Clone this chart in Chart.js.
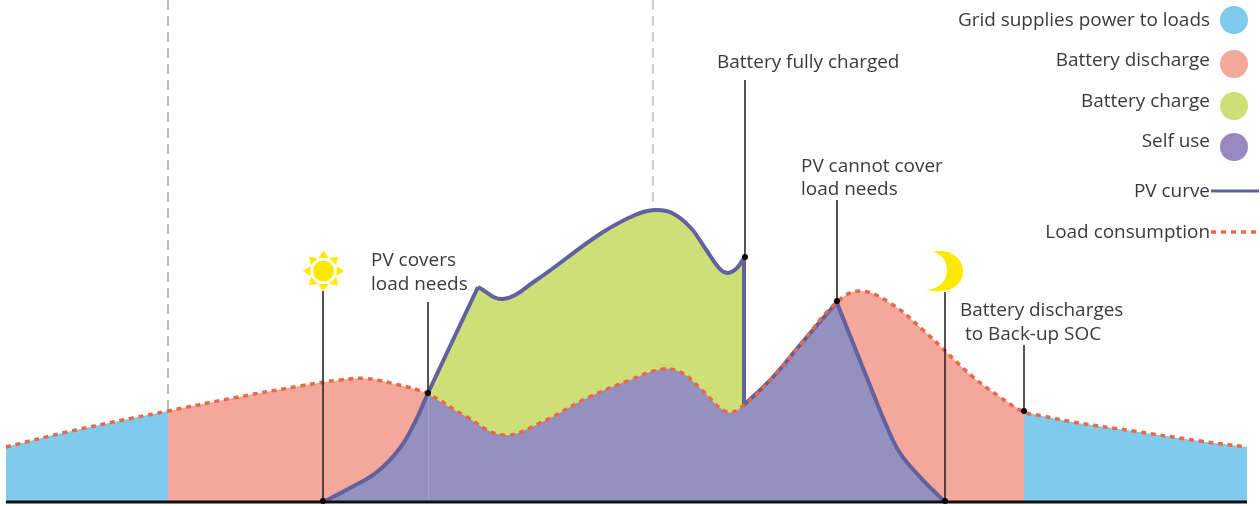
<!DOCTYPE html>
<html>
<head>
<meta charset="utf-8">
<title>PV and battery day profile</title>
<script src="https://cdn.jsdelivr.net/npm/chart.js@4/dist/chart.umd.min.js"></script>
<style>
  html, body { margin: 0; padding: 0; background: #fff; }
  canvas { display: block; }
</style>
</head>
<body>
<canvas id="profileChart" width="1260" height="506"></canvas>
<script>
// Load consumption over the day
const loadX = [6, 67, 133, 168, 233, 300, 340, 365, 395, 428, 465, 503, 540, 587, 630, 663, 682, 700, 727, 743, 773, 800, 837, 860, 890, 923, 973, 1000, 1024, 1043, 1073, 1133, 1200, 1247];
const loadY = [55, 70, 84, 91, 104, 116, 122, 123.5, 118, 108, 86, 67, 79, 104, 122, 133, 129, 114, 90, 96, 125, 157, 200, 211, 199, 172, 125, 105, 90, 86, 80, 71, 61, 55];

// PV curve, cut at its corners
const pvMorningX = [323, 350, 377, 400, 415, 428];
const pvMorningY = [0, 14, 30, 54, 80, 109];
const pvClimbX = [428, 478];
const pvClimbY = [109, 215];
const pvNoonX = [478, 503, 535, 600, 635, 655, 672, 690, 705, 720, 728, 737, 744];
const pvNoonY = [215, 203, 221, 268, 287, 292, 289, 275, 254, 233, 229, 234, 244];
const pvEveningX = [837, 853, 873, 887, 900, 920, 945];
const pvEveningY = [199, 159, 109, 75, 49, 25, 0];

// Leader lines and phase markers
const leaderX = [323, 428, 745, 837, 945, 1024];
const leaderTop = [211, 200, 422, 302, 210, 157];
const leaderBottom = [1, 109, 245, 201, 1, 91];
const phaseX = [168, 653];
const phaseBottom = [91, 292];

// Texts
const legendLabels = ["Grid supplies power to loads", "Battery discharge", "Battery charge", "Self use", "PV curve", "Load consumption"];
const noteLabels = ["Battery fully charged", "PV cannot cover", "load needs", "PV covers", "load needs", "Battery discharges", "to Back-up SOC"];

const colors = {
    grid: "#80CBEB",
    discharge: "#F3A89B",
    charge: "#CFDF78",
    selfUse: "#9491C1",
    legendSelfUse: "#9888BF",
    pv: "#62619F",
    load: "#E8694A",
    lead: "#1c1c1c",
    phase: "#bdbdbd",
    sun: "#FFE900",
    text: "#3a3a3a"
};

const zip = (xs, ys) => xs.map((x, i) => ({ x, y: ys[i] }));
const loadBetween = (from, to) => zip(loadX, loadY).filter(p => p.x >= from && p.x <= to);

// Filled region down to the baseline
function area(data, color, smooth = true) {
    return {
        data,
        backgroundColor: color,
        borderWidth: 0,
        pointRadius: 0,
        fill: "origin",
        tension: smooth ? 0.4 : 0
    };
}

function stroke(data, color, width, dash = [], smooth = true) {
    return {
        data,
        borderColor: color,
        borderWidth: width,
        borderDash: dash,
        pointRadius: 0,
        fill: false,
        tension: smooth ? 0.4 : 0
    };
}

function marker(x, y, style, radius, color) {
    return {
        data: [{ x, y }],
        showLine: false,
        pointStyle: style,
        pointRadius: radius,
        backgroundColor: color,
        borderWidth: 0
    };
}

function makeSun() {
    const c = document.createElement("canvas");
    c.width = c.height = 44;
    const g = c.getContext("2d");
    g.fillStyle = colors.sun;
    g.translate(22, 22);
    g.beginPath();
    g.arc(0, 0, 10.5, 0, Math.PI * 2);
    g.fill();
    for (let i = 0; i < 8; i++) {
        g.save();
        g.rotate(i * Math.PI / 4);
        g.beginPath();
        g.moveTo(0, -20.5);
        g.lineTo(-5, -13);
        g.lineTo(5, -13);
        g.closePath();
        g.fill();
        g.restore();
    }
    return c;
}

function makeMoon() {
    const c = document.createElement("canvas");
    c.width = c.height = 48;
    const g = c.getContext("2d");
    g.fillStyle = colors.sun;
    g.beginPath();
    g.moveTo(13, 4);
    g.bezierCurveTo(30, 0, 43, 10, 43, 24);
    g.bezierCurveTo(43, 38, 28, 47, 5, 42);
    g.bezierCurveTo(17, 42, 27, 34, 27, 22);
    g.bezierCurveTo(27, 13, 22, 6, 13, 4);
    g.fill();
    return c;
}

// Text is placed in value space, same as the marks
const legendTextY = [481, 441, 400, 360, 310, 269];
const noteTextX = [717, 801, 801, 371, 371, 960, 965];
const noteTextY = [439, 335, 312, 241, 217, 191, 167];

const textPlugin = {
    id: "chartText",
    afterDatasetsDraw(chart) {
        const { ctx, scales: { x, y } } = chart;
        ctx.save();
        ctx.font = '18.95px "Open Sans"';
        ctx.fillStyle = colors.text;
        ctx.textBaseline = "middle";
        ctx.textAlign = "right";
        legendLabels.forEach((t, i) => ctx.fillText(t, x.getPixelForValue(1210), y.getPixelForValue(legendTextY[i])));
        ctx.textAlign = "left";
        noteLabels.forEach((t, i) => ctx.fillText(t, x.getPixelForValue(noteTextX[i]), y.getPixelForValue(noteTextY[i])));
        ctx.restore();
    }
};

const datasets = [
    area(loadBetween(6, 168), colors.grid),
    area(loadBetween(168, 1024), colors.discharge),
    area(loadBetween(1024, 1247), colors.grid),
    area(zip(pvClimbX, pvClimbY), colors.charge, false),
    area(zip(pvNoonX, pvNoonY), colors.charge),
    stroke([{ x: 478, y: 0 }, { x: 478, y: 214 }], colors.charge, 1, [], false),
    area(zip(pvMorningX, pvMorningY), colors.selfUse),
    area(loadBetween(428, 837), colors.selfUse),
    area(zip(pvEveningX, pvEveningY), colors.selfUse),
    stroke([{ x: 837, y: 0 }, { x: 837, y: 198 }], colors.selfUse, 1, [], false)
];

// Thin seam inside the self use area
datasets.push(stroke([{ x: 428.5, y: 0 }, { x: 428.5, y: 108 }], "rgba(255,255,255,0.15)", 1, [], false));

// Phase markers
phaseX.forEach((x, i) => datasets.push(stroke([{ x, y: 502 }, { x, y: phaseBottom[i] }], colors.phase, [2, 1.5][i], [10, 6], false)));

// Curves
datasets.push(stroke(zip(pvMorningX, pvMorningY), colors.pv, 4));
datasets.push(stroke(zip(pvClimbX, pvClimbY), colors.pv, 4, [], false));
datasets.push(stroke(zip(pvNoonX, pvNoonY), colors.pv, 4));
datasets.push(stroke([{ x: 744, y: 244 }, { x: 744, y: 97 }], colors.pv, 4, [], false));
datasets.push(stroke(loadBetween(743, 837), colors.pv, 4));
datasets.push(stroke(zip(pvEveningX, pvEveningY), colors.pv, 4));
datasets.push(stroke(zip(loadX, loadY), colors.load, 3.5, [5, 4.7]));

// Baseline
datasets.push(stroke([{ x: 6, y: 0 }, { x: 1247, y: 0 }], "#111", 3, [], false));

// Leaders with their dots
leaderX.forEach((x, i) => {
    datasets.push(stroke([{ x, y: leaderTop[i] }, { x, y: leaderBottom[i] }], colors.lead, 1.5, [], false));
    datasets.push(marker(x, leaderBottom[i], "circle", 3, "#000"));
});

// Sun and moon
datasets.push(marker(323.5, 231, makeSun(), 1, colors.sun));
datasets.push(marker(944, 230, makeMoon(), 1, colors.sun));

// Legend keys
[colors.grid, colors.discharge, colors.charge, colors.legendSelfUse].forEach((c, i) => {
    datasets.push(marker(1234, [482, 438, 396, 355][i], "circle", 14, c));
});
datasets.push(stroke([{ x: 1211, y: 311 }, { x: 1259, y: 311 }], colors.pv, 3, [], false));
datasets.push(stroke([{ x: 1211, y: 270 }, { x: 1259, y: 270 }], colors.load, 3.5, [5, 5], false));

// Chart.js draws dataset 0 on top, so hand them over reversed
datasets.reverse();

new Chart(document.getElementById("profileChart").getContext("2d"), {
    type: "line",
    data: { datasets },
    plugins: [textPlugin],
    options: {
        responsive: false,
        animation: false,
        layout: { padding: 0, autoPadding: false },
        plugins: { legend: { display: false }, tooltip: { enabled: false } },
        scales: {
            x: { type: "linear", display: false, min: 0, max: 1260 },
            y: { type: "linear", display: false, min: -4, max: 502 }
        }
    }
});
</script>
</body>
</html>
